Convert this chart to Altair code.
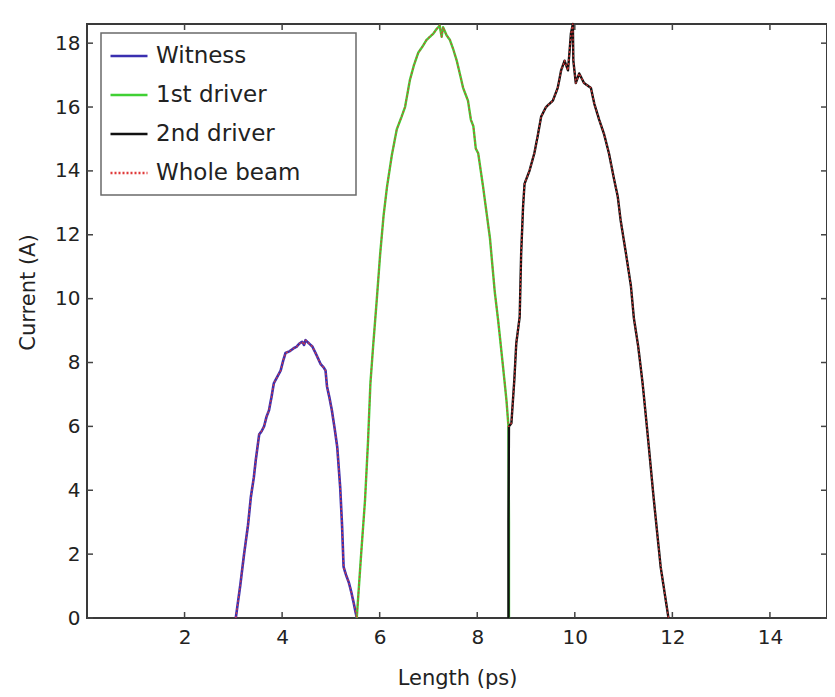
import altair as alt
import pandas as pd

# ---------------- data ----------------
series_names = ["Witness", "1st driver", "2nd driver", "Whole beam"]
series_colors = ["#3a2fb0", "#40d034", "#111111", "#e03a3a"]

witness_x = [3.05, 3.14, 3.22, 3.30, 3.36, 3.42, 3.46, 3.53, 3.58, 3.63, 3.68, 3.73, 3.78, 3.83, 3.90,
             3.97, 4.02, 4.07, 4.15, 4.24, 4.30, 4.36, 4.41, 4.45, 4.48, 4.55, 4.62, 4.70, 4.79,
             4.85, 4.89, 4.92, 4.97, 5.02, 5.08, 5.13, 5.19, 5.23, 5.26, 5.31, 5.37, 5.42, 5.47, 5.53]
witness_y = [0.0, 1.0, 2.0, 2.9, 3.8, 4.4, 4.95, 5.75, 5.85, 6.0, 6.3, 6.5, 6.9, 7.35, 7.55,
             7.75, 8.05, 8.3, 8.35, 8.45, 8.5, 8.6, 8.65, 8.55, 8.7, 8.6, 8.5, 8.25, 7.95,
             7.85, 7.75, 7.25, 6.9, 6.5, 5.9, 5.35, 4.1, 2.85, 1.6, 1.35, 1.1, 0.8, 0.45, 0.0]

driver1_x = [5.53, 5.62, 5.70, 5.76, 5.81, 5.87, 5.94, 6.01, 6.08, 6.15, 6.25, 6.35, 6.45, 6.52,
             6.62, 6.70, 6.79, 6.88, 6.96, 7.03, 7.10, 7.17, 7.23, 7.27, 7.30, 7.37, 7.44, 7.51,
             7.58, 7.65, 7.71, 7.76, 7.81, 7.87, 7.92, 7.97, 8.02, 8.12, 8.19, 8.26, 8.36, 8.43,
             8.53, 8.60, 8.64, 8.65, 8.65]
driver1_y = [0.0, 2.0, 3.7, 5.5, 7.35, 8.6, 9.96, 11.4, 12.6, 13.5, 14.5, 15.3, 15.7, 16.0,
             16.85, 17.3, 17.7, 17.9, 18.1, 18.2, 18.3, 18.45, 18.55, 18.2, 18.5, 18.25, 18.1, 17.8,
             17.45, 17.0, 16.6, 16.4, 16.2, 15.6, 15.4, 14.7, 14.55, 13.5, 12.7, 11.9, 10.2, 9.3,
             7.85, 6.8, 6.0, 3.0, 0.0]

driver2_x = [8.64, 8.64, 8.65, 8.70, 8.76, 8.80, 8.87, 8.90, 8.94, 8.97, 9.07, 9.17, 9.24, 9.31,
             9.41, 9.55, 9.65, 9.72, 9.79, 9.86, 9.89, 9.92, 9.96, 9.97, 10.02, 10.09, 10.19, 10.33,
             10.40, 10.50, 10.60, 10.70, 10.81, 10.88, 10.94, 11.05, 11.15, 11.21, 11.30, 11.39,
             11.49, 11.62, 11.76, 11.92]
driver2_y = [0.0, 3.0, 6.0, 6.1, 7.45, 8.6, 9.43, 11.4, 12.9, 13.6, 14.0, 14.55, 15.1, 15.7,
             16.0, 16.2, 16.6, 17.15, 17.45, 17.15, 17.7, 18.3, 18.6, 17.45, 16.75, 17.05, 16.75, 16.6,
             16.1, 15.6, 15.15, 14.55, 13.7, 13.2, 12.45, 11.4, 10.4, 9.4, 8.5, 7.35,
             5.8, 3.7, 1.6, 0.0]

x_ticks = [2, 4, 6, 8, 10, 12, 14]
y_ticks = [0, 2, 4, 6, 8, 10, 12, 14, 16, 18]
x_domain = [0, 15.17]
y_domain = [0, 18.6]

# whole beam = the three bunches joined together
whole_x = witness_x + driver1_x[:-2] + driver2_x[2:]
whole_y = witness_y + driver1_y[:-2] + driver2_y[2:]

rows = []
for name, xs, ys in zip(series_names,
                        [witness_x, driver1_x, driver2_x, whole_x],
                        [witness_y, driver1_y, driver2_y, whole_y]):
    for k, (a, b) in enumerate(zip(xs, ys)):
        rows.append({"series": name, "t": a, "i": b, "k": k})
df = pd.DataFrame(rows)

W, H = 740, 594
FONT = "DejaVu Sans"

xscale = alt.Scale(domain=x_domain, nice=False, zero=False)
yscale = alt.Scale(domain=y_domain, nice=False, zero=False)

color = alt.Color("series:N", title=None,
                  scale=alt.Scale(domain=series_names, range=series_colors))
dash = alt.StrokeDash("series:N", title=None,
                      scale=alt.Scale(domain=series_names,
                                      range=[[1, 0], [1, 0], [1, 0], [2, 2]]))

x_axis = alt.Axis(values=x_ticks, title="Length (ps)", grid=False, ticks=False, domain=False,
                  labelPadding=9, titleY=60, titleBaseline="middle")
y_axis = alt.Axis(values=y_ticks, title="Current (A)", grid=False, ticks=False, domain=False,
                  labelPadding=7, titleX=-59, titleY=268, titleBaseline="middle",
                  titleAlign="center")

def series_layer(name, width, opacity=1.0):
    return alt.Chart(df).transform_filter(alt.datum.series == name).mark_line(
        strokeWidth=width, opacity=opacity, strokeJoin="round"
    ).encode(
        x=alt.X("t:Q", scale=xscale, axis=x_axis),
        y=alt.Y("i:Q", scale=yscale, axis=y_axis),
        color=color,
        strokeDash=dash,
        order=alt.Order("k:Q"),
    )

# legend box (decoration)
box = alt.Chart(pd.DataFrame({"a": [0]})).mark_rect(
    fill="white", stroke="#6a6a6a", strokeWidth=1.5
).encode(x=alt.value(14), x2=alt.value(269), y=alt.value(9), y2=alt.value(171))

# inward ticks on all four sides
xt = pd.DataFrame({"t": x_ticks})
yt = pd.DataFrame({"i": y_ticks})
tick_color = "#444444"
tb = alt.Chart(xt).mark_rule(color=tick_color, strokeWidth=1.5).encode(
    x=alt.X("t:Q", scale=xscale, axis=x_axis), y=alt.value(H), y2=alt.value(H - 6))
tt = alt.Chart(xt).mark_rule(color=tick_color, strokeWidth=1.5).encode(
    x=alt.X("t:Q", scale=xscale, axis=x_axis), y=alt.value(0), y2=alt.value(6))
tl = alt.Chart(yt).mark_rule(color=tick_color, strokeWidth=1.5).encode(
    y=alt.Y("i:Q", scale=yscale, axis=y_axis), x=alt.value(0), x2=alt.value(6))
tr = alt.Chart(yt).mark_rule(color=tick_color, strokeWidth=1.5).encode(
    y=alt.Y("i:Q", scale=yscale, axis=y_axis), x=alt.value(W), x2=alt.value(W - 6))

chart = alt.layer(
    box,
    series_layer("Witness", 2.6),
    series_layer("1st driver", 2.4),
    series_layer("2nd driver", 2.4),
    series_layer("Whole beam", 1.4, 0.85),
    tb, tt, tl, tr,
).properties(
    width=W, height=H,
    padding={"left": 79, "top": 16, "right": 0, "bottom": 71},
    autosize=alt.AutoSizeParams(type="none"),
    background="white",
).configure_view(
    stroke="#3a3a3a", strokeWidth=2
).configure_axis(
    labelFont=FONT, labelFontSize=20, labelColor="#222222",
    titleFont=FONT, titleFontSize=21, titleFontWeight="normal", titleColor="#222222",
).configure_legend(
    orient="none", legendX=22, legendY=12,
    symbolType="stroke", symbolSize=1369, symbolStrokeWidth=2.5,
    labelFont=FONT, labelFontSize=23, labelColor="#222222", labelOffset=7,
    rowPadding=7, padding=0,
)

chart.save("out.html", embed_options={"renderer": "svg", "actions": False})
